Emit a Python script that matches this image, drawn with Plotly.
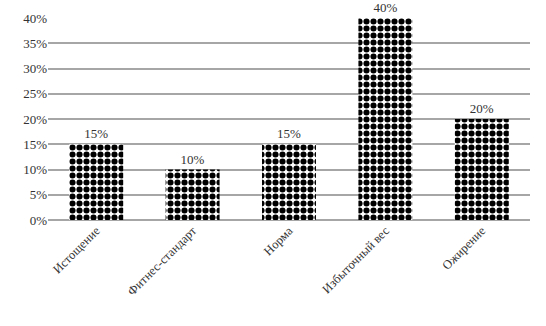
import plotly.graph_objects as go

categories = ["Истощение", "Фитнес-стандарт", "Норма", "Избыточный вес", "Ожирение"]
values = [15, 10, 15, 40, 20]
tick_vals = [0, 5, 10, 15, 20, 25, 30, 35, 40]
tick_text = ["0%", "5%", "10%", "15%", "20%", "25%", "30%", "35%", "40%"]

fig = go.Figure(go.Bar(
    x=categories,
    y=values,
    text=[f"{v}%" for v in values],
    textposition="outside",
    textfont=dict(family="Liberation Serif", size=13, color="#333333"),
    cliponaxis=False,
    hoverinfo="skip",
    marker=dict(
        color="white",
        line=dict(width=0),
        pattern=dict(shape=".", fgcolor="black", fgopacity=1, bgcolor="white",
                     size=7, solidity=0.6, fillmode="overlay"),
    ),
))

fig.update_layout(
    width=546, height=326,
    margin=dict(l=48, r=16, t=18, b=106),
    paper_bgcolor="white", plot_bgcolor="white",
    bargap=0.44,
    showlegend=False,
    font=dict(family="Liberation Serif", size=12, color="#333333"),
    xaxis=dict(tickangle=-45, showgrid=False, showline=False, ticks="", automargin=False,
               tickfont=dict(family="Liberation Serif", size=12.5, color="#333333")),
    yaxis=dict(range=[0, 40], tickvals=tick_vals, ticktext=tick_text, automargin=False,
               showgrid=True, gridcolor="#a6a6a6", gridwidth=2,
               zeroline=True, zerolinecolor="#a6a6a6", zerolinewidth=2,
               showline=False, ticks="",
               tickfont=dict(family="Liberation Serif", size=13, color="#333333")),
)

fig.write_html("out.html", config={"displayModeBar": False},
               post_script="document.body.style.margin='0';")
